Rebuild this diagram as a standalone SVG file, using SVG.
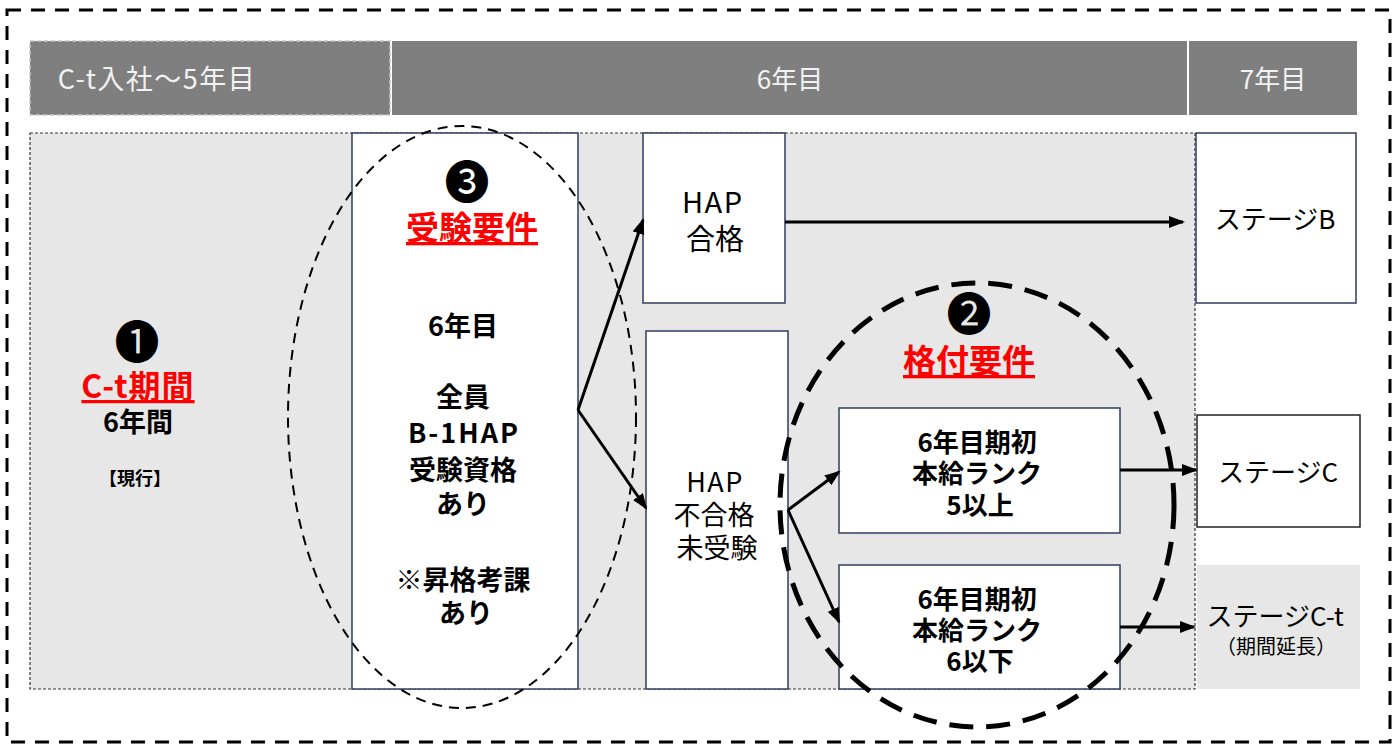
<svg xmlns="http://www.w3.org/2000/svg" width="1393" height="744" viewBox="0 0 1393 744">
<defs>
<marker id="ah" markerUnits="userSpaceOnUse" markerWidth="16" markerHeight="12" refX="14" refY="6" orient="auto">
<path d="M0,0 L16,6 L0,12 Z" fill="#000"/>
</marker>
<style>
text{font-family:"Noto Sans CJK JP","Noto Sans",sans-serif;text-anchor:middle;fill:#000}
.hd{fill:#7f7f7f}
.ht{fill:#f2f2f2;font-size:26px}
.box{fill:#fff;stroke:#2f3e5e;stroke-width:1.5}
.b{font-weight:bold}
.red{fill:#ff0000;font-weight:bold;text-decoration:underline}
.n{font-size:26px}
.num{font-size:45px}
.conn line{stroke:#000;stroke-width:3;fill:none}
</style>
</defs>
<rect id="outer" x="7" y="10" width="1383" height="732" fill="none" stroke="#000" stroke-width="3" stroke-dasharray="14 10"/>
<g id="header">
<rect class="hd" x="30" y="41" width="360" height="74" stroke="#c8c8c8" stroke-width="1.5" stroke-dasharray="4 3"/>
<text class="ht" x="157" y="89" style="font-size:27px;letter-spacing:1.5px">C-t入社～5年目</text>
<rect class="hd" x="392" y="41" width="795" height="74"/>
<text class="ht" x="790" y="89">6年目</text>
<rect class="hd" x="1189" y="41" width="168" height="74"/>
<text class="ht" x="1273" y="89">7年目</text>
</g>
<rect id="main-area" x="30" y="133" width="1165" height="556" fill="#e7e7e7" stroke="#333" stroke-width="1.2" stroke-dasharray="3 2"/>
<g id="node-ct">
<text class="num" x="137" y="359">❶</text>
<text class="red" x="138" y="398" style="font-size:32px;letter-spacing:1px">C-t期間</text>
<text class="b" x="138" y="432" style="font-size:27px">6年間</text>
<text class="b" x="135" y="485" style="font-size:18px">【現行】</text>
</g>
<g id="node-juken">
<rect class="box" x="352" y="133" width="226" height="556"/>
<text class="num" x="467" y="199">❸</text>
<text class="red" x="472" y="240" style="font-size:33px">受験要件</text>
<text class="b" style="font-size:27px">
<tspan x="466" y="336">6年目</tspan>
<tspan x="466" y="407">全員</tspan>
<tspan x="467" y="443" style="letter-spacing:2px">B-1HAP</tspan>
<tspan x="466" y="480">受験資格</tspan>
<tspan x="466" y="514">あり</tspan>
<tspan x="466" y="590">※昇格考課</tspan>
<tspan x="466" y="623">あり</tspan>
</text>
</g>
<g id="node-hap-pass">
<rect class="box" x="643" y="133" width="142" height="170"/>
<text style="font-size:29px">
<tspan x="716" y="213" style="letter-spacing:1.5px">HAP</tspan>
<tspan x="715" y="250">合格</tspan>
</text>
</g>
<g id="node-hap-fail">
<rect class="box" x="646" y="331" width="142" height="358"/>
<text style="font-size:27px">
<tspan x="718" y="492" style="letter-spacing:1.5px">HAP</tspan>
<tspan x="717" y="525">不合格</tspan>
<tspan x="717" y="558">未受験</tspan>
</text>
</g>
<g id="node-kakuzuke">
<text class="num" x="969" y="331">❷</text>
<text class="red" x="969" y="373" style="font-size:33px">格付要件</text>
</g>
<g id="node-rank5">
<rect class="box" x="839" y="408" width="281" height="125"/>
<text class="b" style="font-size:26px">
<tspan x="980" y="452">6年目期初</tspan>
<tspan x="980" y="483">本給ランク</tspan>
<tspan x="980" y="515">5以上</tspan>
</text>
</g>
<g id="node-rank6">
<rect class="box" x="839" y="565" width="281" height="124"/>
<text class="b" style="font-size:26px">
<tspan x="980" y="609">6年目期初</tspan>
<tspan x="980" y="640">本給ランク</tspan>
<tspan x="980" y="671">6以下</tspan>
</text>
</g>
<g id="node-stage-b">
<rect class="box" x="1196" y="133" width="160" height="170"/>
<text class="n" x="1275" y="229">ステージB</text>
</g>
<g id="node-stage-c">
<rect x="1197" y="415" width="163" height="112" fill="#fff" stroke="#222" stroke-width="1.5"/>
<text class="n" x="1278" y="482">ステージC</text>
</g>
<g id="node-stage-ct">
<rect x="1197" y="565" width="163" height="124" fill="#e7e7e7"/>
<text>
<tspan class="n" x="1277" y="626">ステージC-t</tspan>
<tspan x="1276" y="654" style="font-size:20px">（期間延長）</tspan>
</text>
</g>
<g id="ellipses">
<ellipse cx="462" cy="417" rx="174" ry="291" fill="none" stroke="#000" stroke-width="2" stroke-dasharray="10 7"/>
<ellipse cx="977" cy="505" rx="197" ry="222" fill="none" stroke="#000" stroke-width="5" stroke-dasharray="24 13"/>
</g>
<g class="conn" id="connectors">
<line x1="578" y1="410" x2="643" y2="220" marker-end="url(#ah)"/>
<line x1="578" y1="410" x2="646" y2="508" marker-end="url(#ah)"/>
<line x1="785" y1="222" x2="1183" y2="222" marker-end="url(#ah)"/>
<line x1="788" y1="510" x2="839" y2="472" marker-end="url(#ah)"/>
<line x1="788" y1="510" x2="839" y2="622" marker-end="url(#ah)"/>
<line x1="1120" y1="470" x2="1196" y2="470" marker-end="url(#ah)"/>
<line x1="1120" y1="627" x2="1194" y2="627" marker-end="url(#ah)"/>
</g>
</svg>
